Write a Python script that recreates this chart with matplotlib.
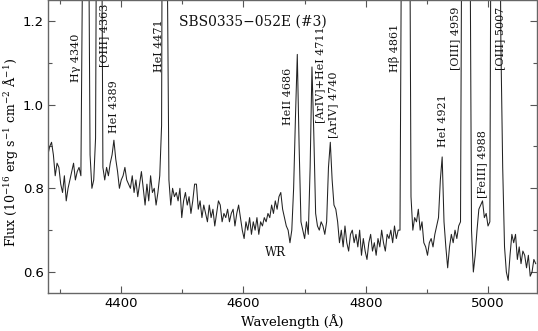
import numpy as np
import matplotlib
matplotlib.use("Agg")
import matplotlib.pyplot as plt
from matplotlib.ticker import MultipleLocator

# Spectrum: flux values on a 3 Angstrom grid, in segments with start wavelength
step = 3.0
start_a = 4280
flux_a = [0.88, 0.90, 0.91, 0.88, 0.83, 0.86, 0.85, 0.81, 0.79, 0.83,
          0.77, 0.80, 0.82, 0.84, 0.86, 0.82, 0.84, 0.85, 0.83, 1.40,
          3.0, 3.5, 1.6, 0.88, 0.80, 0.82, 0.92, 2.0, 2.6, 1.8,
          0.85, 0.82, 0.85, 0.83, 0.86, 0.88, 0.915, 0.87, 0.84, 0.80]
start_b = 4400
flux_b = [0.82, 0.83, 0.85, 0.82, 0.81, 0.80, 0.83, 0.79, 0.82, 0.78,
          0.81, 0.84, 0.80, 0.76, 0.81, 0.77, 0.83, 0.79, 0.80, 0.76,
          0.79, 0.83, 0.95, 2.5, 3.0, 1.4, 0.82, 0.76, 0.80, 0.78,
          0.79, 0.77, 0.80, 0.73, 0.77, 0.79, 0.76, 0.78, 0.74, 0.77]
start_c = 4520
flux_c = [0.81, 0.81, 0.75, 0.77, 0.73, 0.76, 0.74, 0.72, 0.76, 0.73,
          0.75, 0.71, 0.74, 0.77, 0.76, 0.72, 0.74, 0.73, 0.75, 0.72,
          0.74, 0.75, 0.71, 0.74, 0.76, 0.73, 0.70, 0.68, 0.72, 0.70,
          0.73, 0.69, 0.72, 0.70, 0.73, 0.69, 0.72, 0.71, 0.73, 0.72]
start_d = 4640
flux_d = [0.74, 0.73, 0.76, 0.74, 0.77, 0.75, 0.78, 0.79, 0.75, 0.73,
          0.71, 0.70, 0.67, 0.70, 0.80, 0.97, 1.12, 0.90, 0.72, 0.70,
          0.68, 0.72, 0.69, 0.85, 1.09, 0.93, 0.74, 0.71, 0.70, 0.72,
          0.71, 0.69, 0.72, 0.85, 0.91, 0.82, 0.76, 0.75, 0.72, 0.67]
start_e = 4760
flux_e = [0.70, 0.66, 0.71, 0.67, 0.65, 0.69, 0.70, 0.67, 0.69, 0.66,
          0.70, 0.64, 0.68, 0.65, 0.63, 0.67, 0.69, 0.65, 0.67, 0.64,
          0.68, 0.66, 0.70, 0.67, 0.65, 0.69, 0.68, 0.70, 0.67, 0.71,
          0.68, 0.70, 0.70, 1.6, 3.5, 4.0, 3.0, 1.8, 0.78, 0.70]
start_f = 4880
flux_f = [0.73, 0.72, 0.75, 0.70, 0.72, 0.67, 0.66, 0.64, 0.67, 0.68,
          0.66, 0.69, 0.71, 0.73, 0.82, 0.875, 0.72, 0.66, 0.61, 0.66,
          0.69, 0.67, 0.70, 0.68, 0.71, 0.72, 1.8, 4.0, 5.0, 4.0,
          1.6, 0.70, 0.60, 0.64, 0.70, 0.75, 0.76, 0.77, 0.73, 0.74]
start_g = 5000
flux_g = [0.71, 0.72, 2.0, 5.0, 6.0, 4.0, 1.8, 1.15, 0.85, 0.66,
          0.60, 0.58, 0.64, 0.69, 0.67, 0.69, 0.63, 0.66, 0.62, 0.65,
          0.64, 0.61, 0.64, 0.59, 0.60, 0.63, 0.62]

segments = [(start_a, flux_a), (start_b, flux_b), (start_c, flux_c),
            (start_d, flux_d), (start_e, flux_e), (start_f, flux_f),
            (start_g, flux_g)]

# Line identifications: label, x position (A), y bottom (flux)
line_labels = ["Hγ 4340", "[OIII] 4363", "HeI 4389", "HeI 4471",
               "HeII 4686", "[ArIV]+HeI 4711", "[ArIV] 4740", "Hβ 4861",
               "HeI 4921", "[OIII] 4959", "[FeIII] 4988", "[OIII] 5007"]
label_x = [4326, 4372.5, 4388.5, 4461, 4672, 4725, 4746.5, 4847.5,
           4927, 4946, 4990, 5020]
label_y = [1.054, 1.09, 0.932, 1.078, 0.951, 0.956, 0.92, 1.078,
           0.898, 1.083, 0.778, 1.083]

title_text = "SBS0335−052E (#3)"
xlim = (4280, 5080)
ylim = (0.55, 1.25)

wave = np.concatenate([s + step * np.arange(len(f)) for s, f in segments])
flux = np.concatenate([np.array(f) for s, f in segments])

plt.rcParams['mathtext.fontset'] = 'dejavuserif'
serif = 'DejaVu Serif'

fig = plt.figure(figsize=(5.38, 3.31), dpi=100)
ax = fig.add_axes([0.089, 0.115, 0.909, 0.885])
ax.plot(wave, flux, color='#222222', lw=0.75)
ax.set_xlim(*xlim)
ax.set_ylim(*ylim)

ax.xaxis.set_major_locator(MultipleLocator(200))
ax.xaxis.set_minor_locator(MultipleLocator(100))
ax.yaxis.set_major_locator(MultipleLocator(0.2))
ax.yaxis.set_minor_locator(MultipleLocator(0.1))
ax.tick_params(which='both', direction='in', top=True, right=True,
               color='#555555', labelsize=9.5, pad=3)
ax.tick_params(which='major', length=5, width=0.8)
ax.tick_params(which='minor', length=3, width=0.8)
for sp in ax.spines.values():
    sp.set_color('#666666')
    sp.set_linewidth(1.0)
ax.yaxis.set_major_formatter(matplotlib.ticker.FormatStrFormatter('%.1f'))

ax.set_xlabel('Wavelength (Å)', family=serif, fontsize=9.5, labelpad=3)
ax.set_ylabel(r'Flux (10$^{-16}$ erg s$^{-1}$ cm$^{-2}$ Å$^{-1}$)',
              family=serif, fontsize=9)
ax.yaxis.set_label_coords(-0.057, 0.48)

for lab, lx, ly in zip(line_labels, label_x, label_y):
    ax.text(lx, ly, lab, rotation=90, ha='center', va='bottom',
            family=serif, fontsize=8, color='#111111')

ax.text(4615, 1.198, title_text, ha='center', va='center',
        family=serif, fontsize=10, color='#111111')
ax.text(4653, 0.647, 'WR', ha='center', va='center', family=serif,
        fontsize=8.5, color='#111111')

fig.savefig('out.png', dpi=100)
